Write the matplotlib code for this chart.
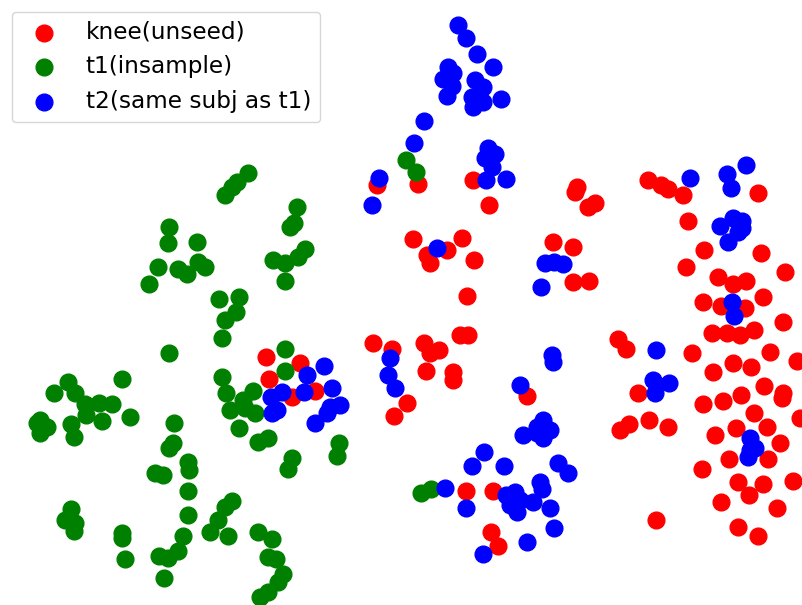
import matplotlib
matplotlib.use("Agg")
import matplotlib.pyplot as plt
import numpy as np

# embedding coordinates (y grows downward)
knee_pts = [
    (377, 185), (418, 184), (473, 180), (489, 205), (577, 187), (575, 192), (595, 203), (588, 207),
    (648, 180), (661, 185), (668, 189), (683, 195), (758, 193),
    (413, 239), (447, 250), (427, 255), (430, 263), (462, 238), (474, 260), (467, 296),
    (460, 335), (468, 335), (424, 343), (439, 350), (430, 353), (426, 371), (453, 372),
    (453, 380), (527, 396), (553, 242), (573, 247), (573, 282), (589, 281),
    (266, 357), (300, 363), (269, 379), (315, 391), (292, 397), (373, 343), (392, 349),
    (407, 403), (394, 416),
    (688, 221), (704, 250), (686, 267), (761, 253), (785, 272), (718, 277), (733, 284),
    (746, 281), (763, 297), (703, 302), (721, 306), (745, 308), (783, 322), (712, 333),
    (727, 333), (740, 335), (754, 330), (618, 339), (626, 349), (692, 353), (770, 352),
    (797, 361), (733, 363), (751, 367), (713, 372), (638, 393), (764, 386), (783, 393),
    (741, 395), (723, 401), (703, 404), (782, 398),
    (754, 413), (800, 418), (649, 420), (629, 424), (620, 430), (668, 427), (715, 435),
    (736, 428), (767, 427), (780, 443), (729, 459), (768, 459), (702, 469), (738, 482),
    (749, 495), (763, 484), (793, 481), (721, 502), (777, 508), (656, 520), (738, 527),
    (758, 536), (466, 491), (493, 491), (491, 532), (498, 546),
]
t1_pts = [
    (248, 173), (237, 182), (232, 187), (225, 195), (406, 160), (416, 172),
    (169, 227), (168, 243), (158, 267), (149, 284), (178, 269), (187, 274), (197, 242),
    (198, 262), (205, 267), (169, 353), (122, 379), (68, 382), (54, 393), (75, 393),
    (85, 404), (99, 403), (112, 404),
    (40, 420), (37, 423), (47, 427), (40, 433), (71, 424), (74, 437), (86, 415), (102, 421),
    (130, 417), (174, 423), (173, 443), (169, 448), (188, 462), (189, 470), (155, 473),
    (163, 475), (188, 491), (188, 515), (183, 536), (178, 551), (159, 556), (168, 558),
    (164, 578), (71, 509), (65, 520), (75, 523), (74, 531), (122, 533), (122, 538), (125, 559),
    (297, 207), (294, 223), (290, 227), (305, 249), (298, 257), (273, 260), (285, 263),
    (285, 281), (219, 299), (239, 297), (236, 312), (225, 320), (222, 338), (285, 349),
    (285, 371), (222, 377), (226, 393), (253, 391), (243, 400),
    (230, 410), (245, 408), (255, 413), (239, 428), (258, 442), (268, 438), (292, 458),
    (288, 469), (339, 443), (337, 456), (232, 501), (225, 507), (218, 520), (210, 532),
    (228, 536), (258, 532), (272, 539), (268, 557), (276, 559), (283, 574), (278, 582),
    (268, 592), (260, 597), (421, 493), (431, 489),
]
t2_pts = [
    (458, 25), (466, 38), (477, 54), (493, 67), (448, 67), (453, 73), (443, 79), (452, 86),
    (447, 96), (475, 80), (483, 87), (472, 97), (483, 102), (473, 107), (501, 99),
    (424, 121), (414, 143), (486, 180), (506, 179), (488, 148), (495, 154), (485, 158),
    (492, 167), (379, 178), (372, 205),
    (690, 178), (727, 174), (731, 188), (746, 165),
    (437, 248), (545, 263), (554, 262), (563, 264), (541, 287), (552, 355), (553, 362),
    (520, 385),
    (324, 366), (307, 375), (332, 388), (304, 392), (282, 392), (271, 397), (390, 358),
    (388, 375), (395, 388), (272, 413), (277, 410), (315, 423), (330, 407), (340, 405),
    (327, 413),
    (720, 226), (733, 218), (742, 221), (738, 232), (728, 242), (742, 228),
    (732, 302), (734, 316), (656, 350), (653, 380), (669, 383), (655, 393),
    (543, 420), (537, 427), (550, 430), (543, 438), (537, 433), (523, 435), (484, 452),
    (472, 466), (504, 466), (558, 463), (568, 473), (445, 488), (506, 495), (515, 492),
    (510, 505), (517, 512), (520, 500), (533, 502), (540, 482), (542, 489), (550, 508),
    (554, 528), (466, 508), (527, 542), (483, 554),
    (750, 438), (750, 450), (748, 457), (755, 448),
]

series = [
    ("knee(unseed)", knee_pts, "red"),
    ("t1(insample)", t1_pts, "green"),
    ("t2(same subj as t1)", t2_pts, "blue"),
]

fig = plt.figure(figsize=(8.02, 6.05), dpi=100)
ax = fig.add_axes([0, 0, 1, 1])
for label, pts, color in series:
    arr = np.array(pts, dtype=float)
    ax.scatter(arr[:, 0], arr[:, 1], s=145, c=color, label=label)

ax.set_xlim(0, 802)
ax.set_ylim(605, 0)
ax.axis("off")
ax.legend(loc="upper left", fontsize=16.7)

fig.savefig("out.png", dpi=100)
